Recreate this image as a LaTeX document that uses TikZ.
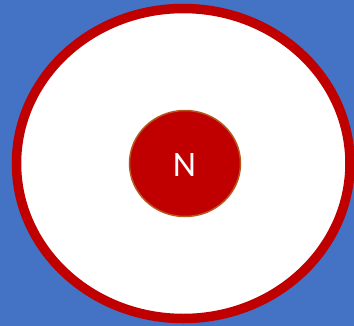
\documentclass[tikz,border=0pt]{standalone}
\usepackage{fontspec}
\setmainfont{Carlito}
\usetikzlibrary{shapes.geometric}
\definecolor{bgblue}{HTML}{4472C4}
\definecolor{ringred}{HTML}{C00000}
\definecolor{nucborder}{HTML}{B8561E}
\begin{document}
\begin{tikzpicture}[x=1bp,y=-1bp,
  outer/.style={ellipse, draw=ringred, fill=white, line width=9.5bp, minimum width=333.5bp, minimum height=310bp, inner sep=0pt},
  nucleus/.style={ellipse, draw=nucborder, fill=ringred, line width=1.5bp, minimum width=111bp, minimum height=106bp, inner sep=0pt},
  label/.style={text=white, font=\fontsize{36}{36}\selectfont, inner sep=0pt}]
\fill[bgblue] (0,0) rectangle (354,326);
\useasboundingbox (0,0) rectangle (354,326);
\node[outer] (atom) at (183.25,163.5) {};
\node[nucleus] (n) at (185,163.5) {};
\node[label] (nlabel) at (184.5,165) {N};
\end{tikzpicture}
\end{document}
